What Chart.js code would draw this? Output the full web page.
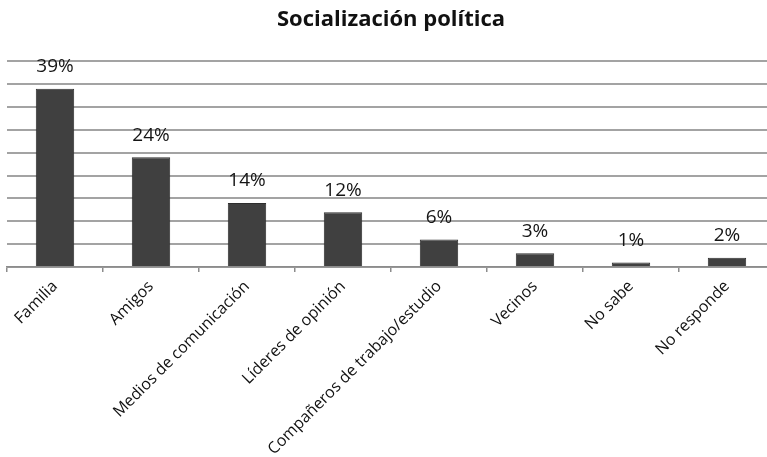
<!DOCTYPE html>
<html>
<head>
<meta charset="utf-8">
<script src="https://cdn.jsdelivr.net/npm/chart.js@4"></script>
<style>
  html, body { margin: 0; padding: 0; background: #fff; overflow: hidden; }
  #wrap { width: 782px; height: 457px; }
</style>
</head>
<body>
<div id="wrap"><canvas id="c" width="782" height="457"></canvas></div>
<script>
// Fuentes de socialización política (% de respuestas)
const categories = [
  'Familia',
  'Amigos',
  'Medios de comunicación',
  'Líderes de opinión',
  'Compañeros de trabajo/estudio',
  'Vecinos',
  'No sabe',
  'No responde'
];
const percentages = [39, 24, 14, 12, 6, 3, 1, 2];
const valueLabels = ['39%', '24%', '14%', '12%', '6%', '3%', '1%', '2%'];

// Writes each bar's percentage just above it
const barValueLabels = {
  id: 'barValueLabels',
  afterDatasetsDraw(chart) {
    const ctx = chart.ctx;
    const meta = chart.getDatasetMeta(0);
    ctx.save();
    ctx.font = '19px "Open Sans", sans-serif';
    ctx.fillStyle = '#151515';
    ctx.textAlign = 'center';
    ctx.textBaseline = 'middle';
    meta.data.forEach((bar, i) => {
      ctx.fillText(valueLabels[i], bar.x, bar.y - 22);
    });
    ctx.restore();
  }
};

new Chart(document.getElementById('c'), {
  type: 'bar',
  data: {
    labels: categories,
    datasets: [{
      data: percentages,
      backgroundColor: '#404040',
      borderColor: '#2e2e2e',
      borderWidth: 1,
      categoryPercentage: 1.0,
      barPercentage: 0.4
    }]
  },
  options: {
    responsive: false,
    animation: false,
    layout: { padding: { left: 7, right: 7, top: 0, bottom: 0 } },
    plugins: {
      legend: { display: false },
      tooltip: { enabled: false },
      title: {
        display: true,
        text: 'Socialización política',
        color: '#111111',
        font: { family: '"Open Sans", sans-serif', size: 22, weight: 'bold' },
        padding: { top: 7, bottom: 28 }
      }
    },
    scales: {
      x: {
        offset: true,
        grid: {
          offset: true,
          drawOnChartArea: false,
          drawTicks: true,
          tickLength: 5,
          color: '#8c8c8c',
          lineWidth: 1.5
        },
        border: { display: true, color: '#8c8c8c', width: 1.5 },
        ticks: {
          autoSkip: false,
          minRotation: 45,
          maxRotation: 45,
          color: '#111111',
          padding: 5,
          font: { family: '"Open Sans", sans-serif', size: 16 }
        },
        afterFit(scale) { scale.height = 190; }
      },
      y: {
        min: 0,
        max: 45,
        ticks: { display: false, stepSize: 5 },
        grid: { color: '#a3a3a3', lineWidth: 2, drawTicks: false },
        border: { display: false }
      }
    }
  },
  plugins: [barValueLabels]
});
</script>
</body>
</html>
